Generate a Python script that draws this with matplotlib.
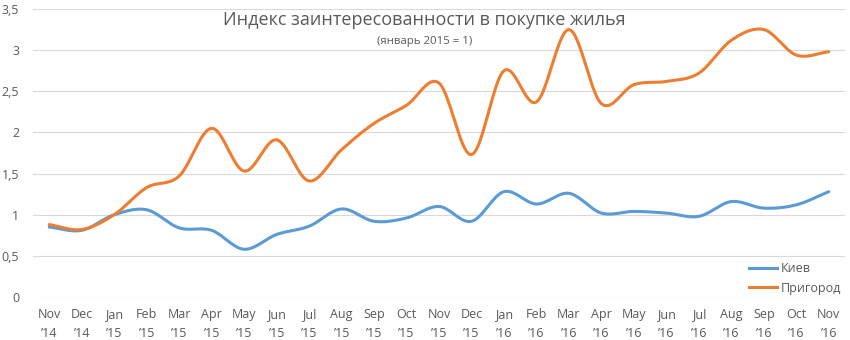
import numpy as np
import matplotlib
matplotlib.use("Agg")
import matplotlib.pyplot as plt
from matplotlib.lines import Line2D

months = ["Nov", "Dec", "Jan", "Feb", "Mar", "Apr", "May", "Jun", "Jul", "Aug", "Sep", "Oct",
          "Nov", "Dec", "Jan", "Feb", "Mar", "Apr", "May", "Jun", "Jul", "Aug", "Sep", "Oct", "Nov"]
years = ["14", "14"] + ["15"] * 12 + ["16"] * 11
kiev = [0.85, 0.81, 1.00, 1.06, 0.84, 0.81, 0.58, 0.76, 0.86, 1.07, 0.92, 0.96,
        1.10, 0.92, 1.28, 1.13, 1.26, 1.02, 1.04, 1.02, 0.98, 1.16, 1.08, 1.12, 1.28]
suburbs = [0.88, 0.82, 1.00, 1.33, 1.47, 2.05, 1.53, 1.91, 1.41, 1.79, 2.11, 2.33,
           2.60, 1.73, 2.75, 2.37, 3.25, 2.35, 2.58, 2.62, 2.72, 3.12, 3.25, 2.94, 2.98]
series_names = ["Киев", "Пригород"]
yticks = [0, 0.5, 1, 1.5, 2, 2.5, 3, 3.5]

BLUE = "#5B9BD5"
ORANGE = "#ED7D31"
GREY = "#595959"
FONT = ["Open Sans", "DejaVu Sans"]
plt.rcParams["font.family"] = FONT


def smooth(x, y, n=20):
    """Catmull-Rom style smoothing, like a smoothed spreadsheet line."""
    x = np.asarray(x, float)
    y = np.asarray(y, float)
    px = np.concatenate([[2 * x[0] - x[1]], x, [2 * x[-1] - x[-2]]])
    py = np.concatenate([[2 * y[0] - y[1]], y, [2 * y[-1] - y[-2]]])
    xs, ys = [], []
    t = np.linspace(0, 1, n, endpoint=False)
    for i in range(1, len(px) - 2):
        p0, p1, p2, p3 = py[i - 1], py[i], py[i + 1], py[i + 2]
        q0, q1, q2, q3 = px[i - 1], px[i], px[i + 1], px[i + 2]
        for arr, a0, a1, a2, a3 in ((ys, p0, p1, p2, p3), (xs, q0, q1, q2, q3)):
            arr.extend(0.5 * ((2 * a1) + (-a0 + a2) * t + (2 * a0 - 5 * a1 + 4 * a2 - a3) * t ** 2
                              + (-a0 + 3 * a1 - 3 * a2 + a3) * t ** 3))
    xs.append(x[-1])
    ys.append(y[-1])
    return np.array(xs), np.array(ys)


fig = plt.figure(figsize=(8.5, 3.4), dpi=100)
ax = fig.add_axes([33 / 850, 43 / 340, 812 / 850, 288 / 340])

x = np.arange(len(months))
for vals, color, name in ((kiev, BLUE, series_names[0]), (suburbs, ORANGE, series_names[1])):
    sx, sy = smooth(x, vals)
    ax.plot(sx, sy, color=color, lw=2.2, solid_capstyle="round", label=name, zorder=3)

ax.set_xlim(-0.5, len(months) - 0.5)
ax.set_ylim(0, 3.5)
ax.set_yticks(yticks)
ax.set_yticklabels([("%g" % v).replace(".", ",") for v in yticks])
ax.set_xticks(x)
ax.set_xticklabels([f"{m}\n\u2019{yy}" for m, yy in zip(months, years)], linespacing=1.6)
ax.tick_params(axis="both", length=0, labelsize=9, colors=GREY)
ax.tick_params(axis="y", pad=10)
ax.tick_params(axis="x", pad=8)
ax.grid(axis="y", color="#D9D9D9", lw=0.8)
ax.set_axisbelow(True)
for s in ax.spines.values():
    s.set_visible(False)

fig.text(0.499, 0.94, "Индекс заинтересованности в покупке жилья", ha="center", va="center",
         fontsize=13, color=GREY)
fig.text(0.499, 0.877, "(январь 2015 = 1)", ha="center", va="center", fontsize=8.2, color=GREY)

handles = [Line2D([0], [0], color=BLUE, lw=2.2), Line2D([0], [0], color=ORANGE, lw=2.2)]
ax.legend(handles, series_names, loc="lower right", bbox_to_anchor=(1.006, -0.022), frameon=False,
          fontsize=9, labelcolor=GREY, handlelength=2.2, handletextpad=0.3,
          labelspacing=0.5, borderaxespad=0.3)

fig.savefig("out.png", dpi=100)
